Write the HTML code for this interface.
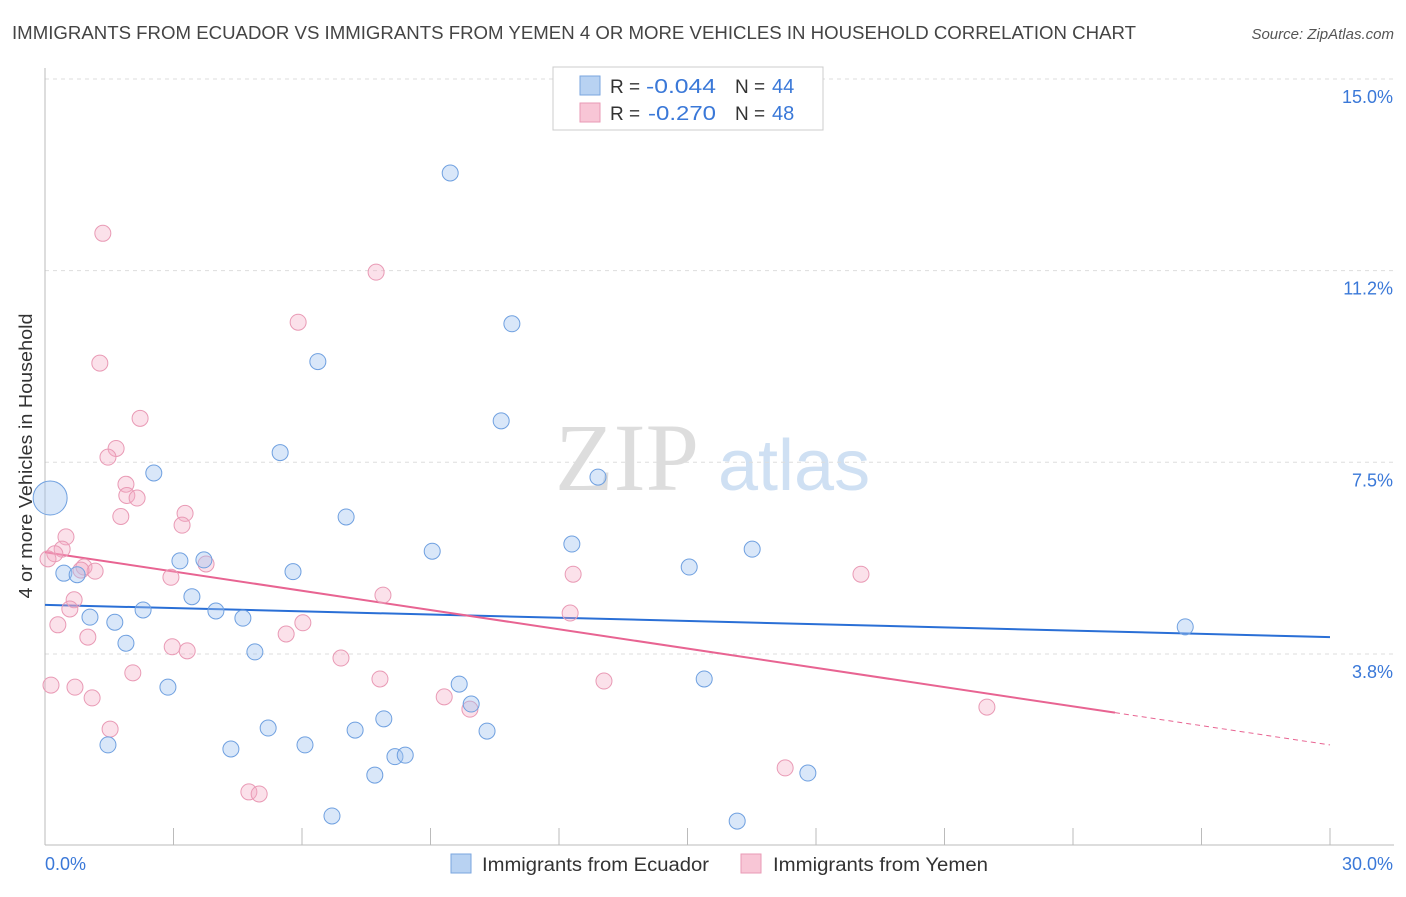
<!DOCTYPE html>
<html><head><meta charset="utf-8"><style>
body{margin:0;background:#fff;font-family:"Liberation Sans",sans-serif}
</style></head><body>
<svg width="1406" height="892" xmlns="http://www.w3.org/2000/svg">
<text x="12" y="39" font-size="18" fill="#444" textLength="1124" lengthAdjust="spacingAndGlyphs">IMMIGRANTS FROM ECUADOR VS IMMIGRANTS FROM YEMEN 4 OR MORE VEHICLES IN HOUSEHOLD CORRELATION CHART</text>
<text x="1394" y="39" font-size="15" fill="#555" font-style="italic" text-anchor="end">Source: ZipAtlas.com</text>
<g>
<text x="555" y="490" font-size="96" font-family="Liberation Serif,serif" fill="#ddd">ZIP</text>
<text x="718" y="490" font-size="72" fill="#cfe0f3">atlas</text>
</g>
<g id="grid"></g>
<g id="axes"></g>
<g id="trends"></g>
<g id="points"></g>
<text x="32" y="456" font-size="18" fill="#333" transform="rotate(-90 32 456)" text-anchor="middle" textLength="285" lengthAdjust="spacingAndGlyphs">4 or more Vehicles in Household</text>
<g>
<rect x="553" y="67" width="270" height="63" fill="#fff" stroke="#ccc"/>
<rect x="580" y="76" width="20" height="19" fill="#b8d2f2" stroke="#7aa6df"/>
<rect x="580" y="103" width="20" height="19" fill="#f8c6d6" stroke="#e99ab5"/>
<text x="610" y="93" font-size="19" fill="#333">R =</text>
<text x="646" y="93" font-size="20" fill="#3a78d8" textLength="70" lengthAdjust="spacingAndGlyphs">-0.044</text>
<text x="735" y="93" font-size="19" fill="#333">N =</text>
<text x="772" y="93" font-size="20" fill="#3a78d8">44</text>
<text x="610" y="120" font-size="19" fill="#333">R =</text>
<text x="648" y="120" font-size="20" fill="#3a78d8" textLength="68" lengthAdjust="spacingAndGlyphs">-0.270</text>
<text x="735" y="120" font-size="19" fill="#333">N =</text>
<text x="772" y="120" font-size="20" fill="#3a78d8">48</text>
</g>
<g>
<rect x="451" y="854" width="20" height="19" fill="#b8d2f2" stroke="#7aa6df"/>
<text x="482" y="871" font-size="19" fill="#333" textLength="227" lengthAdjust="spacingAndGlyphs">Immigrants from Ecuador</text>
<rect x="741" y="854" width="20" height="19" fill="#f8c6d6" stroke="#e99ab5"/>
<text x="773" y="871" font-size="19" fill="#333" textLength="215" lengthAdjust="spacingAndGlyphs">Immigrants from Yemen</text>
</g>
</svg>
<script>
const yTicks=[3.75,7.5,11.25,15];
const yTickLabels=["3.8%","7.5%","11.2%","15.0%"];
const xLabels=["0.0%","30.0%"];
const blueX=[9.46,10.90,6.37,10.65,5.49,2.54,12.91,0.12,7.03,9.04,12.30,16.51,3.15,3.71,5.79,15.04,0.44,0.75,3.43,2.29,3.99,1.05,1.63,4.62,1.89,4.90,2.87,9.67,9.95,15.39,26.62,1.47,4.34,5.21,6.07,7.24,7.91,10.32,8.17,8.41,7.70,17.81,6.70,16.16];
const blueY=[13.16,10.21,9.47,8.31,7.69,7.29,7.21,6.80,6.43,5.76,5.90,5.80,5.57,5.59,5.36,5.45,5.33,5.30,4.87,4.61,4.59,4.47,4.37,4.45,3.96,3.79,3.10,3.16,2.77,3.26,4.28,1.97,1.89,2.30,1.97,2.26,2.48,2.24,1.74,1.77,1.38,1.42,0.58,0.48];
const pinkX=[1.35,7.73,5.91,1.28,2.22,1.66,1.47,1.89,1.91,2.15,1.77,3.27,3.20,0.49,0.40,0.23,0.07,0.91,1.17,0.84,3.76,2.94,0.68,0.58,0.30,1.00,7.89,12.33,12.26,6.02,5.63,2.97,3.32,6.91,19.05,0.14,0.70,1.10,2.05,7.82,13.05,9.32,9.92,1.52,21.99,17.28,4.76,5.00];
const pinkY=[11.98,11.22,10.24,9.44,8.36,7.77,7.60,7.07,6.85,6.80,6.44,6.50,6.27,6.04,5.80,5.71,5.61,5.45,5.37,5.39,5.51,5.25,4.81,4.63,4.32,4.08,4.90,5.31,4.55,4.36,4.14,3.89,3.81,3.67,5.31,3.14,3.10,2.89,3.38,3.26,3.22,2.91,2.67,2.28,2.71,1.52,1.05,1.01];
const blueTrend=[4.71,4.08];
const pinkTrend=[5.74,1.97];
const pinkSolidEnd=24.98;
const X=v=>45+v*1285/30, Y=v=>845.6-v*51.11;
const NS="http://www.w3.org/2000/svg";
function mk(tag,attrs,parent){const e=document.createElementNS(NS,tag);for(const k in attrs)e.setAttribute(k,attrs[k]);parent.appendChild(e);return e;}
const grid=document.getElementById('grid'),axes=document.getElementById('axes');
yTicks.forEach((t,i)=>{
 const l=mk('line',{x1:45,x2:1394,y1:Y(t),y2:Y(t),stroke:'#ddd','stroke-dasharray':'4 4'},grid);
 
 
 const tx=mk('text',{x:1393,y:Y(t)+24,'font-size':18,fill:'#3a78d8','text-anchor':'end'},axes);
 tx.textContent=yTickLabels[i];
 
 
});
mk('line',{x1:45,x2:45,y1:68,y2:845,stroke:'#bbb'},axes);
mk('line',{x1:45,x2:1394,y1:845,y2:845,stroke:'#bbb'},axes);
for(let i=0;i<=10;i++){const t=mk('line',{x1:X(i*3),x2:X(i*3),y1:828,y2:845,stroke:'#bbb'},axes);
 
 }
const xl0=mk('text',{x:45,y:870,'font-size':18,fill:'#3a78d8'},axes);xl0.textContent=xLabels[0];


const xl1=mk('text',{x:1393,y:870,'font-size':18,fill:'#3a78d8','text-anchor':'end'},axes);xl1.textContent=xLabels[1];


const pts=document.getElementById('points');
pinkX.forEach((v,i)=>{const c=mk('circle',{cx:X(v),cy:Y(pinkY[i]),r:8,fill:'rgba(244,170,196,0.35)',stroke:'#e99ab5','stroke-width':1},pts);
 
 });
blueX.forEach((v,i)=>{const c=mk('circle',{cx:X(v),cy:Y(blueY[i]),r:i===7?17:8,fill:'rgba(160,196,240,0.4)',stroke:'#6fa0e0','stroke-width':1},pts);
 
 });
const tr=document.getElementById('trends');
const b=mk('line',{x1:X(0),y1:Y(blueTrend[0]),x2:X(30),y2:Y(blueTrend[1]),stroke:'#2a6fd6','stroke-width':2},tr);


const py=x=>pinkTrend[0]+(pinkTrend[1]-pinkTrend[0])*x/30;
const p1=mk('line',{x1:X(0),y1:Y(py(0)),x2:X(pinkSolidEnd),y2:Y(py(pinkSolidEnd)),stroke:'#e86492','stroke-width':2},tr);


const p2=mk('line',{x1:X(pinkSolidEnd),y1:Y(py(pinkSolidEnd)),x2:X(30),y2:Y(py(30)),stroke:'#e86492','stroke-width':1,'stroke-dasharray':'5 4'},tr);


</script>
</body></html>
